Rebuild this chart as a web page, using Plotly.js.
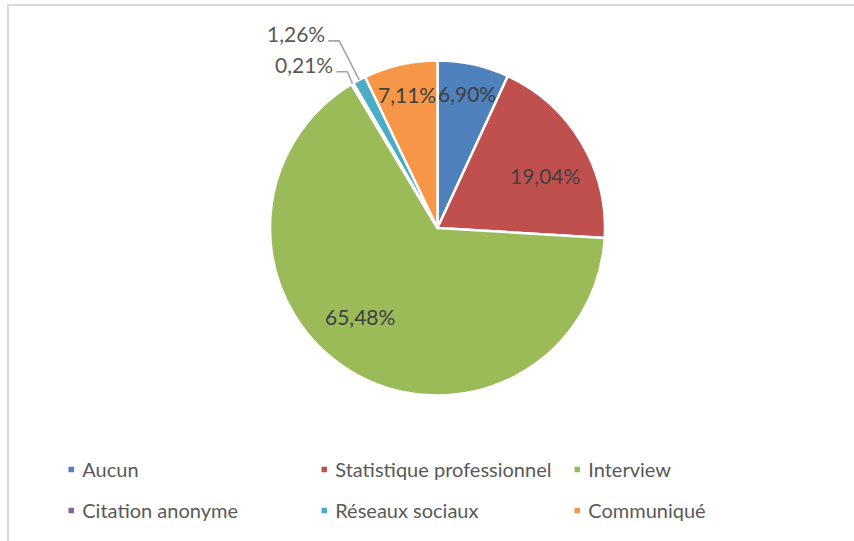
<!DOCTYPE html>
<html>
<head>
<meta charset="utf-8">
<script src="https://cdn.plot.ly/plotly-3.0.1.min.js"></script>
<style>
  html, body { margin: 0; padding: 0; background: #fff; overflow: hidden; }
  #wrap { position: relative; width: 854px; height: 541px; }
  #chart { position: absolute; left: 0; top: 0; width: 854px; height: 541px; }
  #frame { position: absolute; left: 7px; top: 4px; width: 900px; height: 600px;
           border-left: 2px solid #d9d9d9; border-top: 2px solid #d9d9d9; pointer-events: none; }
</style>
</head>
<body>
<div id="wrap">
  <div id="chart"></div>
  <div id="frame"></div>
</div>
<script>
// ---- data ----
const categories = ["Aucun", "Statistique professionnel", "Interview", "Citation anonyme", "Réseaux sociaux", "Communiqué"];
const shares = [6.90, 19.04, 65.48, 0.21, 1.26, 7.11];

// ---- style ----
const colors = ["#4F81BD", "#C0504D", "#9BBB59", "#8064A2", "#4BACC6", "#F79646"];
// label placement style: radius fraction for inside labels, or null for outside labels with leader lines
const labelRadius = [0.82, 0.72, 0.72, null, null, 0.82];
// small pixel nudges of the inside labels (Excel "best fit" placement)
const labelNudge = [[0, 0], [4, 9], [-15, -15], null, null, [0, 0]];
// leader-line elbow offset (px) from the slice edge, for outside labels
const leaderElbow = [null, null, null, [-5, -12], [-20, -39], null];
const FONT = "Lato, 'Open Sans', sans-serif";

const W = 854, H = 541;
const cx = 437.5, cy = 228, r = 167.5;

const total = shares.reduce((a, b) => a + b, 0);
const fmt = v => (v / total * 100).toFixed(2).replace(".", ",") + "%";
const px = x => x / W, py = y => 1 - y / H;

const annotations = [];
const shapes = [];
let cum = 0;
shares.forEach((v, i) => {
  const mid = (cum + v / 2) / total * 2 * Math.PI;
  cum += v;
  const sx = Math.sin(mid), sy = Math.cos(mid);
  if (labelRadius[i] !== null) {
    const f = labelRadius[i];
    annotations.push({
      xref: "paper", yref: "paper",
      x: px(cx + f * r * sx + labelNudge[i][0]), y: py(cy - f * r * sy + labelNudge[i][1]),
      xanchor: "center", yanchor: "middle",
      text: fmt(v), showarrow: false,
      font: { family: FONT, size: 21, color: "#404040" }
    });
  } else {
    const Px = cx + r * sx, Py = cy - r * sy;
    const Ex = Px + leaderElbow[i][0], Ey = Py + leaderElbow[i][1];
    const Tx = Ex - 11, Ty = Ey;
    shapes.push({
      type: "path", xref: "paper", yref: "paper",
      path: `M ${px(Px)} ${py(Py)} L ${px(Ex)} ${py(Ey)} L ${px(Tx)} ${py(Ty)}`,
      line: { color: "#a6a6a6", width: 1.6 }
    });
    annotations.push({
      xref: "paper", yref: "paper",
      x: px(Tx - 1), y: py(Ty - 7),
      xanchor: "right", yanchor: "middle",
      text: fmt(v), showarrow: false,
      font: { family: FONT, size: 21, color: "#595959" }
    });
  }
});

const trace = {
  type: "pie",
  labels: categories,
  values: shares,
  sort: false,
  direction: "clockwise",
  rotation: 0,
  marker: { colors: colors, line: { color: "#ffffff", width: 2.5 } },
  textinfo: "none",
  hoverinfo: "label+percent",
  domain: { x: [(cx - r) / W, (cx + r) / W], y: [1 - (cy + r) / H, 1 - (cy - r) / H] }
};

const layout = {
  width: W, height: H,
  margin: { l: 0, r: 0, t: 0, b: 0 },
  paper_bgcolor: "#ffffff",
  separators: ", ",
  showlegend: true,
  legend: {
    orientation: "h",
    x: 0.06, xanchor: "left",
    y: 1 - 450 / H, yanchor: "top",
    entrywidth: 208, entrywidthmode: "pixels",
    font: { family: FONT, size: 20, color: "#595959" },
    traceorder: "normal"
  },
  annotations: annotations,
  shapes: shapes,
  font: { family: FONT }
};

Plotly.newPlot("chart", [trace], layout, { staticPlot: true, displayModeBar: false }).then(gd => {
  // Excel-like legend: small square keys, tighter key-text gap, wider row spacing
  const sb = gd.querySelector(".legend .scrollbox");
  if (sb) sb.removeAttribute("clip-path");
  const items = gd.querySelectorAll(".legend .traces");
  let firstY = null;
  items.forEach(it => {
    const m = /translate\(([-\d.]+)[ ,]+([-\d.]+)\)/.exec(it.getAttribute("transform") || "");
    if (!m) return;
    const x = parseFloat(m[1]), y = parseFloat(m[2]);
    if (firstY === null) firstY = y;
    const row = y > firstY + 1 ? 1 : 0;
    it.setAttribute("transform", `translate(${x},${y + row * 12})`);
  });
  gd.querySelectorAll(".legend .legendpoints path").forEach(p => p.setAttribute("d", "M4,4H-4V-4H4Z"));
  gd.querySelectorAll(".legend .legendtext").forEach(t => t.setAttribute("x", 31));
});
</script>
</body>
</html>
